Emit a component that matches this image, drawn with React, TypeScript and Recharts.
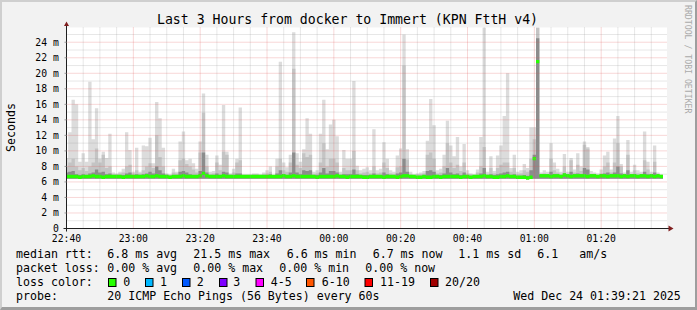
import React from "react";
import { ComposedChart, Area, XAxis, YAxis, ReferenceLine, CartesianGrid } from "recharts";

const MONO = '"DejaVu Sans Mono", "Liberation Mono", monospace';

// one value per minute, first one is the partial minute before 22:40
const maxRtt = [
  9.1, 12.4, 16.6, 16.0, 8.6, 9.7, 8.6, 18.9, 11.5, 15.5, 9.0, 9.9,
  9.1, 12.2, 7.2, 7.1, 7.3, 7.7, 12.4, 10.1, 7.3, 10.4, 7.3, 10.7,
  10.6, 11.7, 8.4, 16.3, 14.2, 10.4, 7.1, 7.0, 7.7, 7.3, 11.2, 12.5,
  8.8, 9.0, 8.4, 7.7, 11.2, 17.4, 9.5, 7.3, 7.4, 9.4, 8.2, 15.9,
  9.9, 7.1, 7.7, 9.0, 15.6, 7.0, 7.0, 7.0, 7.1, 7.1, 7.0, 7.2,
  7.5, 8.0, 6.9, 9.0, 21.5, 8.5, 7.9, 9.5, 25.3, 9.7, 8.6, 10.2,
  14.2, 12.2, 7.3, 7.5, 12.2, 16.6, 10.2, 13.4, 14.0, 11.9, 7.3, 10.1,
  9.0, 9.0, 19.0, 8.1, 7.5, 7.7, 7.9, 7.5, 12.8, 7.5, 7.7, 11.1,
  9.0, 7.5, 7.3, 9.4, 10.3, 25.0, 10.2, 7.3, 7.0, 7.1, 7.2, 7.4,
  11.3, 16.7, 13.3, 7.5, 7.7, 9.5, 13.9, 10.7, 9.3, 11.8, 8.0, 10.9,
  7.5, 7.1, 7.0, 7.6, 11.8, 25.9, 7.3, 9.3, 7.4, 9.4, 10.7, 14.5,
  20.0, 7.8, 9.5, 7.3, 7.5, 8.3, 7.8, 13.0, 13.0, 25.9, 7.2, 7.5,
  7.3, 11.0, 8.5, 7.7, 7.3, 9.6, 7.3, 9.1, 7.6, 9.7, 8.0, 11.2,
  10.5, 7.4, 7.2, 7.1, 7.6, 9.4, 9.9, 7.6, 11.6, 14.5, 8.3, 7.2,
  11.4, 7.3, 8.2, 7.5, 7.3, 12.5, 8.6, 7.3, 10.7, 7.2, 7.0,
];

const midRtt = [
  8.0, 8.5, 9.0, 8.0, 7.5, 7.8, 7.4, 8.0, 8.5, 10.3, 8.5, 9.5,
  7.8, 8.0, 7.0, 7.0, 7.1, 7.2, 8.0, 8.2, 7.1, 7.5, 7.1, 7.5,
  8.0, 8.4, 7.8, 12.0, 9.2, 8.0, 7.0, 6.9, 7.2, 7.1, 8.8, 9.0,
  8.3, 8.0, 7.6, 7.2, 9.8, 14.9, 8.0, 7.0, 7.1, 8.5, 7.5, 9.9,
  9.5, 7.0, 7.2, 8.5, 8.8, 6.9, 6.9, 6.9, 7.0, 7.0, 6.9, 7.0,
  7.1, 7.3, 6.9, 8.0, 9.0, 7.5, 7.3, 8.5, 20.6, 8.2, 7.8, 9.7,
  9.2, 9.5, 7.0, 7.1, 8.5, 11.0, 8.0, 9.0, 9.0, 8.5, 7.0, 7.8,
  7.5, 7.5, 10.0, 7.5, 7.1, 7.2, 7.3, 7.1, 8.0, 7.1, 7.2, 8.5,
  7.8, 7.1, 7.0, 7.9, 8.0, 21.0, 8.9, 7.0, 6.9, 7.0, 7.0, 7.1,
  9.5, 9.8, 9.0, 7.1, 7.2, 8.0, 11.0, 8.5, 7.8, 8.2, 7.4, 8.5,
  7.1, 7.0, 6.9, 7.2, 8.0, 10.5, 7.0, 7.8, 7.1, 7.8, 8.2, 8.5,
  8.5, 7.3, 7.8, 7.0, 7.1, 7.5, 7.3, 9.0, 11.5, 25.9, 7.0, 7.1,
  7.0, 9.0, 7.5, 7.2, 7.0, 8.0, 7.0, 8.8, 7.2, 8.2, 7.4, 10.8,
  10.3, 7.0, 6.9, 6.9, 7.1, 8.0, 8.5, 7.2, 8.5, 11.0, 8.0, 7.0,
  9.5, 7.0, 7.5, 7.1, 7.0, 8.8, 7.6, 7.0, 8.6, 7.0, 6.9,
];

const innerRtt = [
  7.2, 7.3, 7.4, 7.0, 6.9, 7.0, 6.9, 7.1, 7.2, 7.6, 7.2, 7.3,
  7.0, 7.1, 6.9, 6.9, 6.9, 6.9, 7.1, 7.2, 6.9, 7.0, 6.9, 7.0,
  7.1, 7.3, 7.1, 8.0, 7.5, 7.1, 6.9, 6.8, 6.9, 6.9, 7.3, 7.4,
  7.2, 7.0, 6.9, 6.9, 7.4, 9.8, 7.2, 6.9, 6.9, 7.1, 6.9, 7.3,
  7.2, 6.9, 6.9, 7.1, 7.1, 6.8, 6.8, 6.8, 6.9, 6.9, 6.8, 6.9,
  6.9, 7.0, 6.8, 7.1, 7.5, 7.0, 6.9, 7.2, 9.8, 7.2, 7.0, 7.5,
  7.4, 7.5, 6.9, 6.9, 7.2, 7.8, 7.1, 7.4, 7.4, 7.2, 6.9, 7.0,
  7.0, 7.0, 7.6, 7.0, 6.9, 6.9, 6.9, 6.9, 7.1, 6.9, 6.9, 7.2,
  7.0, 6.9, 6.8, 7.1, 7.2, 9.0, 7.3, 6.8, 6.8, 6.8, 6.8, 6.9,
  7.4, 7.5, 7.3, 6.9, 6.9, 7.1, 7.8, 7.2, 7.0, 7.1, 6.9, 7.2,
  6.9, 6.8, 6.8, 6.9, 7.1, 7.8, 6.9, 7.0, 6.9, 7.0, 7.1, 7.2,
  7.3, 6.9, 7.0, 6.8, 6.8, 6.9, 6.8, 7.5, 9.5, 24.5, 6.9, 6.9,
  6.9, 7.3, 7.0, 6.9, 6.9, 7.1, 6.9, 7.3, 6.9, 7.1, 6.9, 7.8,
  7.6, 6.9, 6.8, 6.8, 6.9, 7.1, 7.2, 6.9, 7.2, 8.0, 7.1, 6.9,
  7.5, 6.9, 7.0, 6.9, 6.9, 7.3, 7.0, 6.9, 7.2, 6.9, 6.8,
];

const medianRtt = [
  6.7, 6.7, 6.7, 6.7, 6.6, 6.7, 6.7, 6.7, 6.8, 6.7, 6.7, 6.6,
  6.7, 6.7, 6.7, 6.7, 6.7, 6.6, 6.7, 6.7, 6.7, 6.7, 6.7, 6.7,
  6.8, 6.7, 6.7, 6.8, 6.7, 6.7, 6.7, 6.6, 6.7, 6.7, 6.7, 6.8,
  6.7, 6.7, 6.7, 6.7, 6.8, 7.1, 6.8, 6.7, 6.7, 6.7, 6.7, 6.8,
  6.7, 6.7, 6.7, 6.7, 6.7, 6.7, 6.7, 6.7, 6.7, 6.7, 6.7, 6.7,
  6.7, 6.7, 6.7, 6.7, 6.7, 6.8, 6.7, 6.7, 6.8, 6.7, 6.7, 6.7,
  6.7, 6.7, 6.7, 6.6, 6.7, 6.7, 6.7, 6.7, 6.7, 6.8, 6.7, 6.7,
  6.6, 6.7, 6.7, 6.7, 6.7, 6.6, 6.6, 6.7, 6.7, 6.7, 6.7, 6.6,
  6.7, 6.7, 6.7, 6.6, 6.7, 6.8, 6.8, 6.7, 6.7, 6.6, 6.6, 6.7,
  6.6, 6.6, 6.7, 6.7, 6.6, 6.7, 6.7, 6.7, 6.7, 6.7, 6.6, 6.7,
  6.7, 6.6, 6.7, 6.7, 6.7, 6.8, 6.7, 6.7, 6.6, 6.6, 6.7, 6.7,
  6.8, 6.7, 6.7, 6.6, 6.6, 6.6, 6.5, 6.6, 9.0, 21.5, 6.8, 6.8,
  6.8, 6.7, 6.8, 6.8, 6.7, 6.9, 6.8, 6.7, 6.8, 6.8, 6.8, 6.8,
  6.7, 6.8, 6.8, 6.7, 6.8, 6.8, 6.7, 6.8, 6.8, 6.8, 6.7, 6.8,
  6.7, 6.8, 6.8, 6.7, 6.8, 6.8, 6.7, 6.8, 6.7, 6.8, 6.7,
];

const minRtt = 6.4;

const timeTicks = [0, 20, 40, 60, 80, 100, 120, 140, 160];
const timeLabels = ["22:40", "23:00", "23:20", "23:40", "00:00", "00:20", "00:40", "01:00", "01:20"];
const rttTicks = [0, 2, 4, 6, 8, 10, 12, 14, 16, 18, 20, 22, 24];

const lossClasses = ["0", "1", "2", "3", "4-5", "6-10", "11-19", "20/20"];
const lossColors = ["#26ff00", "#00b8ff", "#0059ff", "#7e00ff", "#ff00ff", "#ff5500", "#ff0000", "#a10000"];

const rows = maxRtt.map((v, i) => {
  const m = medianRtt[i];
  return {
    t: Math.max(0, i - 0.5),
    light: [minRtt, v],
    mid: [minRtt, midRtt[i]],
    inner: [minRtt, innerRtt[i]],
    med: [m - 0.22, m + 0.22],
  };
});
const chartData = [...rows, { ...rows[rows.length - 1], t: rows.length - 0.5 }];

const minorX: number[] = [];
for (let m = 5; m < 180; m += 5) if (m % 20 !== 0) minorX.push(m);
const majorX = timeTicks.slice(1);
const minorY = [1, 3, 5, 7, 9, 11, 13, 15, 17, 19, 21, 23, 25];
const majorY = rttTicks.slice(1);

const GRID = "rgba(150,150,150,0.45)";
const MGRID = "rgba(225,80,80,0.45)";

const row1: [string, number][] = [
  ["median rtt:", 16], ["6.8 ms avg", 107.3], ["21.5 ms max", 193.3], ["6.6 ms min", 286.7],
  ["6.7 ms now", 372.7], ["1.1 ms sd", 458.3], ["6.1", 537.3], ["am/s", 579.3],
];
const row2: [string, number][] = [
  ["packet loss:", 16], ["0.00 % avg", 107.3], ["0.00 % max", 193.3], ["0.00 % min", 279.3], ["0.00 % now", 365.3],
];
const swatchX = [108.5, 145.5, 182.5, 219.5, 256, 306.5, 365, 430.5];
const swatchLabelX = [123.3, 160, 196.7, 233.3, 270.7, 321.7, 380, 445];

export default function App() {
  const txt = { fontFamily: MONO, fontSize: 11.6, fill: "#000" } as const;
  return (
    <div style={{ position: "relative", width: 697, height: 310, background: "#f2f2f2", overflow: "hidden" }}>
      <style>{"body{margin:0}"}</style>
      <div style={{ position: "absolute", left: 0, top: 0 }}>
        <ComposedChart
          width={697}
          height={310}
          data={chartData}
          margin={{ top: 27.5, right: 30, bottom: 61.5, left: 0 }}
        >
          <CartesianGrid horizontal={false} vertical={false} fill="#ffffff" stroke="none" />
          <XAxis
            type="number"
            dataKey="t"
            domain={[0, 179.7]}
            allowDataOverflow
            ticks={timeTicks}
            interval={0}
            tickFormatter={(v: number) => timeLabels[timeTicks.indexOf(v)] ?? ""}
            height={20}
            tickLine={false}
            tickSize={3}
            tickMargin={3.6}
            axisLine={{ stroke: "#1f1f1f" }}
            tick={{ fill: "#000", fontSize: 9.75, fontFamily: MONO }}
          />
          <YAxis
            type="number"
            domain={[0, 25.9]}
            allowDataOverflow
            ticks={rttTicks}
            interval={0}
            width={66.5}
            tickFormatter={(v: number) => (v === 0 ? "0" : `${v} m`)}
            tickSize={2}
            tickMargin={5.7}
            tickLine={{ stroke: "#999" }}
            axisLine={{ stroke: "#1f1f1f" }}
            tick={{ fill: "#000", fontSize: 9.75, fontFamily: MONO }}
          />
          <Area type="stepAfter" dataKey="light" stroke="none" fill="#dcdcdc" fillOpacity={1} isAnimationActive={false} dot={false} activeDot={false} />
          <Area type="stepAfter" dataKey="mid" stroke="none" fill="#c4c4c4" fillOpacity={1} isAnimationActive={false} dot={false} activeDot={false} />
          <Area type="stepAfter" dataKey="inner" stroke="none" fill="#8c8c8c" fillOpacity={1} isAnimationActive={false} dot={false} activeDot={false} />
          {minorX.map((m) => (
            <ReferenceLine key={`mx${m}`} x={m} stroke={GRID} strokeDasharray="1 1" />
          ))}
          {minorY.map((v) => (
            <ReferenceLine key={`my${v}`} y={v} stroke={GRID} strokeDasharray="1 1" />
          ))}
          {majorX.map((m) => (
            <ReferenceLine key={`Mx${m}`} x={m} stroke={MGRID} strokeDasharray="1 1" />
          ))}
          {majorY.map((v) => (
            <ReferenceLine key={`My${v}`} y={v} stroke={MGRID} strokeDasharray="1 1" />
          ))}
          <Area type="stepAfter" dataKey="med" stroke="none" fill="#26ff00" fillOpacity={1} isAnimationActive={false} dot={false} activeDot={false} />
        </ComposedChart>
      </div>
      <svg width={697} height={310} style={{ position: "absolute", left: 0, top: 0, pointerEvents: "none" }}>
        <text x={347.5} y={24} textAnchor="middle" fontFamily={MONO} fontSize={13.2} fill="#000">
          Last 3 Hours from docker to Immert (KPN FttH v4)
        </text>
        <text x={15} y={127.5} textAnchor="middle" transform="rotate(-90 15 127.5)" {...txt}>
          Seconds
        </text>
        <text x={685} y={5} transform="rotate(90 685 5)" fontFamily={MONO} fontSize={8.2} fill="#aaaaaa">
          RRDTOOL / TOBI OETIKER
        </text>
        <line x1={66.5} y1={23} x2={66.5} y2={28} stroke="#1f1f1f" />
        <line x1={66.5} y1={228} x2={66.5} y2={231.5} stroke="#1f1f1f" />
        <line x1={63.5} y1={228.5} x2={669} y2={228.5} stroke="#1f1f1f" />
        <polygon points="64,26 69,26 66.5,21.5" fill="#801f1f" />
        <polygon points="668.5,225.5 668.5,231.5 673.5,228.5" fill="#801f1f" />
        {row1.map(([s, x]) => (
          <text key={s} x={x} y={258} xmlSpace="preserve" {...txt}>{s}</text>
        ))}
        {row2.map(([s, x], i) => (
          <text key={i} x={x} y={272} xmlSpace="preserve" {...txt}>{s}</text>
        ))}
        <text x={16} y={286} {...txt}>loss color:</text>
        {lossClasses.map((c, i) => (
          <g key={c}>
            <rect x={swatchX[i]} y={278.5} width={7.5} height={8} fill={lossColors[i]} stroke="#000" strokeWidth={1} />
            <text x={swatchLabelX[i]} y={286} {...txt}>{c}</text>
          </g>
        ))}
        <text x={16} y={300} {...txt}>probe:</text>
        <text x={107.3} y={300} xmlSpace="preserve" {...txt}>20 ICMP Echo Pings (56 Bytes) every 60s</text>
        <text x={513.3} y={300} xmlSpace="preserve" {...txt}>Wed Dec 24 01:39:21 2025</text>
      </svg>
      <div
        style={{
          position: "absolute",
          inset: 0,
          boxSizing: "border-box",
          borderTop: "2px solid #cfcfcf",
          borderLeft: "2px solid #cfcfcf",
          borderRight: "2px solid #9e9e9e",
          borderBottom: "3px solid #9e9e9e",
          pointerEvents: "none",
        }}
      />
    </div>
  );
}
